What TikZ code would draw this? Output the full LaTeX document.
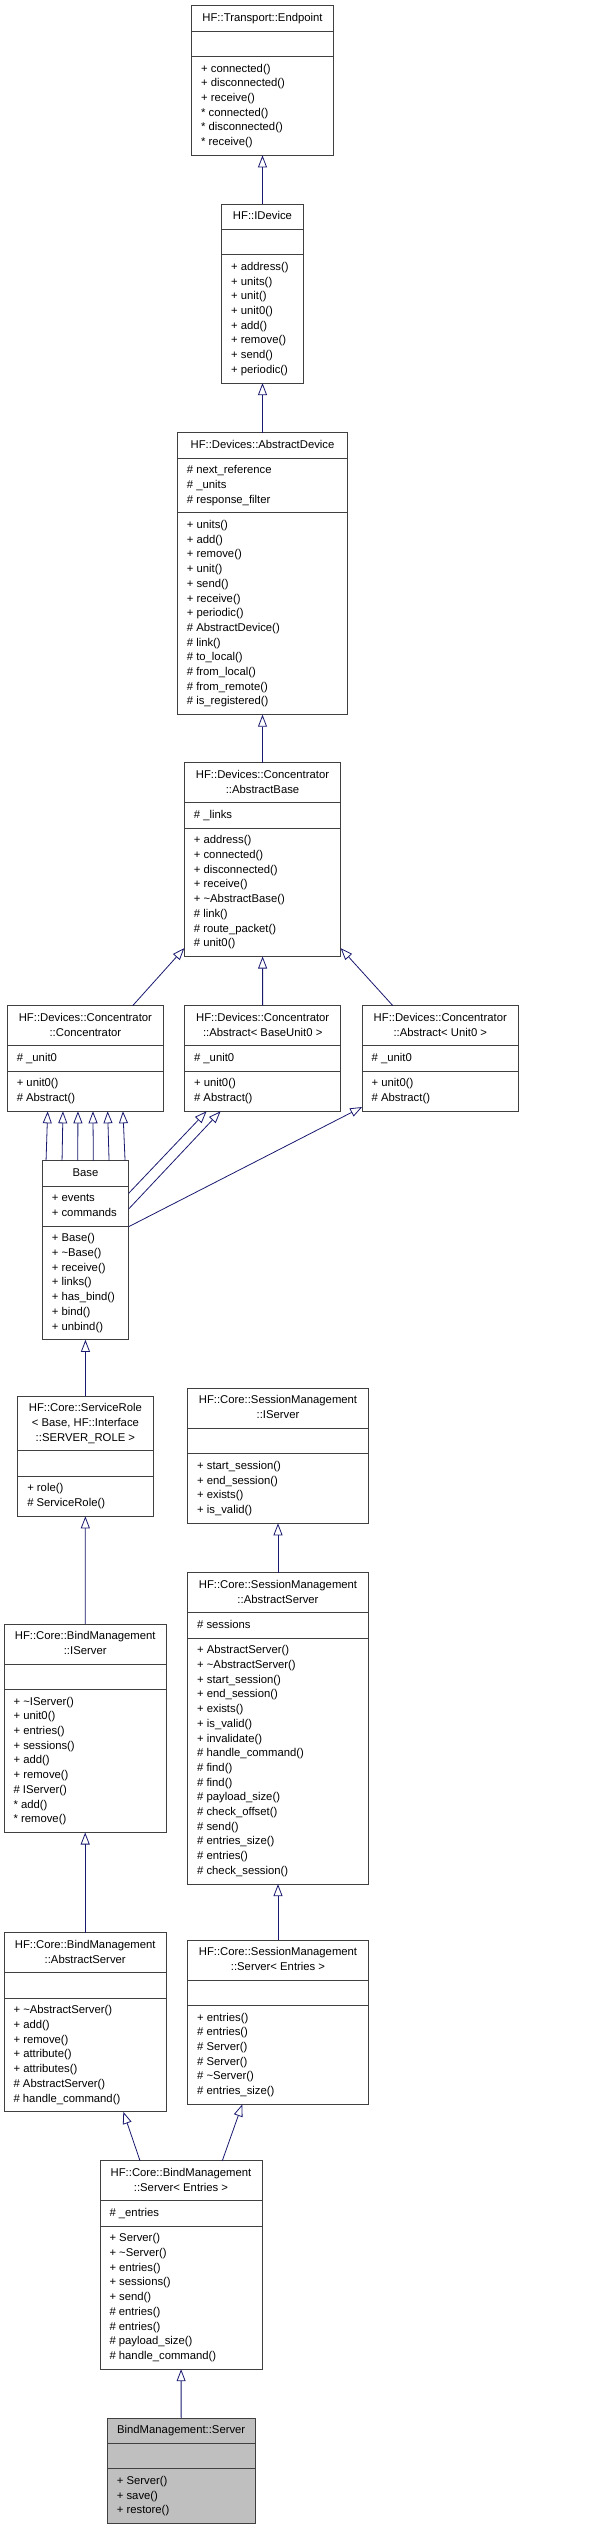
\documentclass[tikz,border=0pt]{standalone}
\usepackage{fontspec}
\setmainfont{Liberation Sans}
\usepackage{xcolor}
\usepackage{tikz}
\usetikzlibrary{positioning}
\usetikzlibrary{shapes.multipart}
\usetikzlibrary{arrows.meta}
\definecolor{midnight}{HTML}{191970}
\definecolor{selgray}{HTML}{BFBFBF}
\newcommand{\ttl}[1]{\begin{tabular}{@{}c@{}}#1\end{tabular}}
\newcommand{\mbr}[1]{\begin{tabular}{@{}l@{}}#1\end{tabular}}

\begin{document}
\begin{tikzpicture}[x=1pt, y=1pt, font=\fontsize{11.3}{14.7}\selectfont]
% Styles:
\tikzset{cls/.style={rectangle split, rectangle split parts=3, rectangle split part align={center,left,left},
  anchor=north, draw=black!75, line width=0.9pt, fill=white, inner xsep=9.5pt, inner ysep=4.9pt, outer sep=0pt}}
\tikzset{inh/.style={draw=midnight, line width=0.8pt, -{Triangle[open, length=12pt, width=9pt]}}}

\useasboundingbox (0,0) rectangle (598,-2529);

% Upper chain:
\node[cls, minimum width=141.7pt] (endpoint) at (262.5,-5.7)
  {\ttl{HF::Transport::Endpoint}
   \nodepart{two}\strut
   \nodepart{three}\mbr{+ connected()\\+ disconnected()\\+ receive()\\{*} connected()\\{*} disconnected()\\{*} receive()}};
\node[cls, minimum width=81.7pt] (idevice) at (262.5,-204)
  {\ttl{HF::IDevice}
   \nodepart{two}\strut
   \nodepart{three}\mbr{+ address()\\+ units()\\+ unit()\\+ unit0()\\+ add()\\+ remove()\\+ send()\\+ periodic()}};
\node[cls, minimum width=170.3pt] (absdevice) at (262.5,-432.7)
  {\ttl{HF::Devices::AbstractDevice}
   \nodepart{two}\mbr{\# next\_reference\\\# \_units\\\# response\_filter}
   \nodepart{three}\mbr{+ units()\\+ add()\\+ remove()\\+ unit()\\+ send()\\+ receive()\\+ periodic()\\\# AbstractDevice()\\\# link()\\\# to\_local()\\\# from\_local()\\\# from\_remote()\\\# is\_registered()}};
\node[cls, minimum width=156.3pt] (absbase) at (262.5,-762.7)
  {\ttl{HF::Devices::Concentrator\\::AbstractBase}
   \nodepart{two}\mbr{\# \_links}
   \nodepart{three}\mbr{+ address()\\+ connected()\\+ disconnected()\\+ receive()\\+ \textasciitilde AbstractBase()\\\# link()\\\# route\_packet()\\\# unit0()}};

% Concentrator row:
\node[cls, minimum width=156.3pt] (absbu0) at (262.7,-1005.7)
  {\ttl{HF::Devices::Concentrator\\::Abstract< BaseUnit0 >}
   \nodepart{two}\mbr{\# \_unit0}
   \nodepart{three}\mbr{+ unit0()\\\# Abstract()}};
\node[cls, minimum width=156.3pt] (concentrator) [left = 21pt of absbu0]
  {\ttl{HF::Devices::Concentrator\\::Concentrator}
   \nodepart{two}\mbr{\# \_unit0}
   \nodepart{three}\mbr{+ unit0()\\\# Abstract()}};
\node[cls, minimum width=156.3pt] (absu0) [right = 21.3pt of absbu0]
  {\ttl{HF::Devices::Concentrator\\::Abstract< Unit0 >}
   \nodepart{two}\mbr{\# \_unit0}
   \nodepart{three}\mbr{+ unit0()\\\# Abstract()}};

% Left column:
\node[cls, minimum width=86.3pt] (base) at (85.5,-1160.7)
  {\ttl{Base}
   \nodepart{two}\mbr{+ events\\+ commands}
   \nodepart{three}\mbr{+ Base()\\+ \textasciitilde Base()\\+ receive()\\+ links()\\+ has\_bind()\\+ bind()\\+ unbind()}};
\node[cls, minimum width=135.3pt] (servicerole) at (85.4,-1396)
  {\ttl{HF::Core::ServiceRole\\< Base, HF::Interface\\::SERVER\_ROLE >}
   \nodepart{two}\strut
   \nodepart{three}\mbr{+ role()\\\# ServiceRole()}};
\node[cls, minimum width=162.3pt] (bmiserver) at (85.2,-1624)
  {\ttl{HF::Core::BindManagement\\::IServer}
   \nodepart{two}\strut
   \nodepart{three}\mbr{+ \textasciitilde IServer()\\+ unit0()\\+ entries()\\+ sessions()\\+ add()\\+ remove()\\\# IServer()\\{*} add()\\{*} remove()}};
\node[cls, minimum width=162.3pt] (bmabstract) at (85.2,-1932.7)
  {\ttl{HF::Core::BindManagement\\::AbstractServer}
   \nodepart{two}\strut
   \nodepart{three}\mbr{+ \textasciitilde AbstractServer()\\+ add()\\+ remove()\\+ attribute()\\+ attributes()\\\# AbstractServer()\\\# handle\_command()}};

% Right column:
\node[cls, minimum width=180.7pt] (smiserver) at (278,-1388.3)
  {\ttl{HF::Core::SessionManagement\\::IServer}
   \nodepart{two}\strut
   \nodepart{three}\mbr{+ start\_session()\\+ end\_session()\\+ exists()\\+ is\_valid()}};
\node[cls, minimum width=180.7pt] (smabstract) at (278,-1572.7)
  {\ttl{HF::Core::SessionManagement\\::AbstractServer}
   \nodepart{two}\mbr{\# sessions}
   \nodepart{three}\mbr{+ AbstractServer()\\+ \textasciitilde AbstractServer()\\+ start\_session()\\+ end\_session()\\+ exists()\\+ is\_valid()\\+ invalidate()\\\# handle\_command()\\\# find()\\\# find()\\\# payload\_size()\\\# check\_offset()\\\# send()\\\# entries\_size()\\\# entries()\\\# check\_session()}};
\node[cls, minimum width=180.7pt] (smserver) at (278,-1940)
  {\ttl{HF::Core::SessionManagement\\::Server< Entries >}
   \nodepart{two}\strut
   \nodepart{three}\mbr{+ entries()\\\# entries()\\\# Server()\\\# Server()\\\# \textasciitilde Server()\\\# entries\_size()}};

% Bottom:
\node[cls, minimum width=162pt] (bmserver) at (181,-2160.7)
  {\ttl{HF::Core::BindManagement\\::Server< Entries >}
   \nodepart{two}\mbr{\# \_entries}
   \nodepart{three}\mbr{+ Server()\\+ \textasciitilde Server()\\+ entries()\\+ sessions()\\+ send()\\\# entries()\\\# entries()\\\# payload\_size()\\\# handle\_command()}};
\node[cls, fill=selgray, minimum width=147.7pt] (bindserver) at (181.2,-2418)
  {\ttl{BindManagement::Server}
   \nodepart{two}\strut
   \nodepart{three}\mbr{+ Server()\\+ save()\\+ restore()}};

% Inheritance:
\draw[inh] (idevice) -- (endpoint);
\draw[inh] (absdevice) -- (idevice);
\draw[inh] (absbase) -- (absdevice);
\draw[inh] (absbu0) -- (absbase);
\draw[inh] ([xshift=125.4pt]concentrator.north west) -- ([yshift=8.4pt]absbase.south west);
\draw[inh] ([xshift=30.7pt]absu0.north west) -- ([yshift=8.4pt]absbase.south east);
\foreach \a/\b in {3.7/40.4, 19.7/55.7, 35.4/70.7, 51/85.7, 66.7/100.4, 82.7/115.7}
  \draw[inh] ([xshift=\a pt]base.north west) -- ([xshift=\b pt]concentrator.south west);
\draw[inh] ([yshift=-32.6pt]base.north east) -- ([xshift=22pt]absbu0.south west);
\draw[inh] ([yshift=-48.3pt]base.north east) -- ([xshift=36pt]absbu0.south west);
\draw[inh] ([yshift=-66pt]base.north east) -- ([yshift=4.3pt]absu0.south west);
\draw[inh] (servicerole) -- (base);
\draw[inh] (bmiserver) -- (servicerole);
\draw[inh] (bmabstract) -- (bmiserver);
\draw[inh] (smabstract) -- (smiserver);
\draw[inh] (smserver) -- (smabstract);
\draw[inh] ([xshift=40pt]bmserver.north west) -- ([xshift=119.3pt]bmabstract.south west);
\draw[inh] ([xshift=122.3pt]bmserver.north west) -- ([xshift=54.6pt]smserver.south west);
\draw[inh] (bindserver) -- (bmserver);
\end{tikzpicture}
\end{document}
